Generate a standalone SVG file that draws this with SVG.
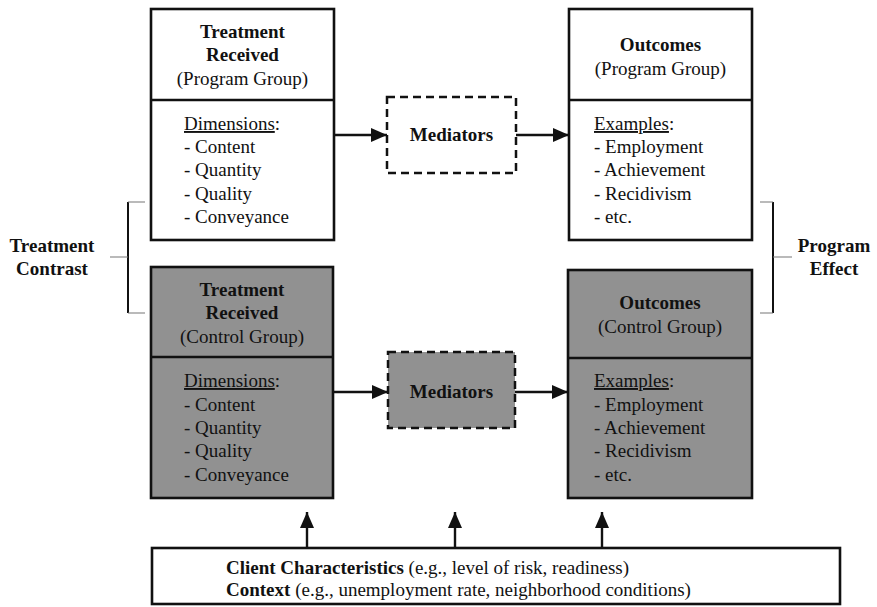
<svg xmlns="http://www.w3.org/2000/svg" width="877" height="607" viewBox="0 0 877 607">
  <style>
    text { font-family: "Liberation Serif", "Times New Roman", serif; font-size: 19px; fill: #111; }
    .b { font-weight: bold; }
    .c { text-anchor: middle; }
    .box { stroke: #111; stroke-width: 2.6; }
    .white { fill: #fff; }
    .grey { fill: #919191; }
    .dash { stroke: #111; stroke-width: 2.5; stroke-dasharray: 8 5; }
    .conn { stroke: #111; stroke-width: 2.4; fill: none; }
    .brace { stroke: #111; stroke-width: 2; fill: none; }
    .tick { stroke: #777; stroke-width: 1.2; fill: none; }
    .u { text-decoration: underline; }
  </style>
  <defs>
    <marker id="arrow" viewBox="0 0 16 14" refX="16" refY="7" markerWidth="16" markerHeight="14" markerUnits="userSpaceOnUse" orient="auto">
      <path d="M0,0 L16,7 L0,14 Z" fill="#111"/>
    </marker>
  </defs>

  <rect width="877" height="607" fill="#fff"/>

  <!-- Treatment received, program group -->
  <g id="treatment-program">
    <rect class="box white" x="151" y="9" width="183" height="231"/>
    <line class="box" x1="151" y1="100" x2="334" y2="100"/>
    <text class="b c" x="242.5" y="38">Treatment</text>
    <text class="b c" x="242.5" y="61">Received</text>
    <text class="c" x="242.5" y="85">(Program Group)</text>
    <text x="184" y="130"><tspan class="u">Dimensions</tspan>:</text>
    <text x="184" y="153">- Content</text>
    <text x="184" y="176">- Quantity</text>
    <text x="184" y="200">- Quality</text>
    <text x="184" y="223">- Conveyance</text>
  </g>

  <!-- Mediators, program group -->
  <g id="mediators-program">
    <rect class="dash white" x="387" y="97" width="129" height="76"/>
    <text class="b c" x="451.5" y="141">Mediators</text>
  </g>

  <!-- Outcomes, program group -->
  <g id="outcomes-program">
    <rect class="box white" x="569" y="9" width="183" height="231"/>
    <line class="box" x1="569" y1="100" x2="752" y2="100"/>
    <text class="b c" x="660.5" y="51">Outcomes</text>
    <text class="c" x="660.5" y="75">(Program Group)</text>
    <text x="594" y="130"><tspan class="u">Examples</tspan>:</text>
    <text x="594" y="153">- Employment</text>
    <text x="594" y="176">- Achievement</text>
    <text x="594" y="200">- Recidivism</text>
    <text x="594" y="223">- etc.</text>
  </g>

  <!-- Treatment received, control group -->
  <g id="treatment-control">
    <rect class="box grey" x="151" y="267" width="182" height="231"/>
    <line class="box" x1="151" y1="357" x2="333" y2="357"/>
    <text class="b c" x="242" y="296">Treatment</text>
    <text class="b c" x="242" y="319">Received</text>
    <text class="c" x="242" y="343">(Control Group)</text>
    <text x="184" y="387"><tspan class="u">Dimensions</tspan>:</text>
    <text x="184" y="411">- Content</text>
    <text x="184" y="434">- Quantity</text>
    <text x="184" y="457">- Quality</text>
    <text x="184" y="481">- Conveyance</text>
  </g>

  <!-- Mediators, control group -->
  <g id="mediators-control">
    <rect class="dash grey" x="388" y="352" width="127" height="76"/>
    <text class="b c" x="451.5" y="398">Mediators</text>
  </g>

  <!-- Outcomes, control group -->
  <g id="outcomes-control">
    <rect class="box grey" x="568" y="270" width="184" height="228"/>
    <line class="box" x1="568" y1="358" x2="752" y2="358"/>
    <text class="b c" x="660" y="309">Outcomes</text>
    <text class="c" x="660" y="333">(Control Group)</text>
    <text x="594" y="387"><tspan class="u">Examples</tspan>:</text>
    <text x="594" y="411">- Employment</text>
    <text x="594" y="434">- Achievement</text>
    <text x="594" y="457">- Recidivism</text>
    <text x="594" y="481">- etc.</text>
  </g>

  <!-- Client characteristics and context -->
  <g id="context">
    <rect class="box white" x="152" y="548" width="688" height="56"/>
    <text x="226" y="574"><tspan class="b">Client Characteristics</tspan> (e.g., level of risk, readiness)</text>
    <text x="226" y="596"><tspan class="b">Context</tspan> (e.g., unemployment rate, neighborhood conditions)</text>
  </g>

  <!-- Treatment contrast bracket -->
  <g id="treatment-contrast">
    <path class="brace" d="M128,202 V313"/>
    <path class="tick" d="M128,202 H145 M128,313 H145 M110,257 H128"/>
    <text class="b c" x="52" y="252">Treatment</text>
    <text class="b c" x="52" y="275">Contrast</text>
  </g>

  <!-- Program effect bracket -->
  <g id="program-effect">
    <path class="brace" d="M773,202 V313"/>
    <path class="tick" d="M760,202 H773 M760,313 H773 M773,257 H792"/>
    <text class="b c" x="834" y="252">Program</text>
    <text class="b c" x="834" y="275">Effect</text>
  </g>

  <!-- Connectors -->
  <g id="connectors">
    <line class="conn" x1="334" y1="135" x2="387" y2="135" marker-end="url(#arrow)"/>
    <line class="conn" x1="516" y1="135" x2="569" y2="135" marker-end="url(#arrow)"/>
    <line class="conn" x1="333" y1="392" x2="388" y2="392" marker-end="url(#arrow)"/>
    <line class="conn" x1="515" y1="392" x2="568" y2="392" marker-end="url(#arrow)"/>
    <line class="conn" x1="307" y1="548" x2="307" y2="512" marker-end="url(#arrow)"/>
    <line class="conn" x1="455" y1="548" x2="455" y2="512" marker-end="url(#arrow)"/>
    <line class="conn" x1="602" y1="548" x2="602" y2="512" marker-end="url(#arrow)"/>
  </g>
</svg>
